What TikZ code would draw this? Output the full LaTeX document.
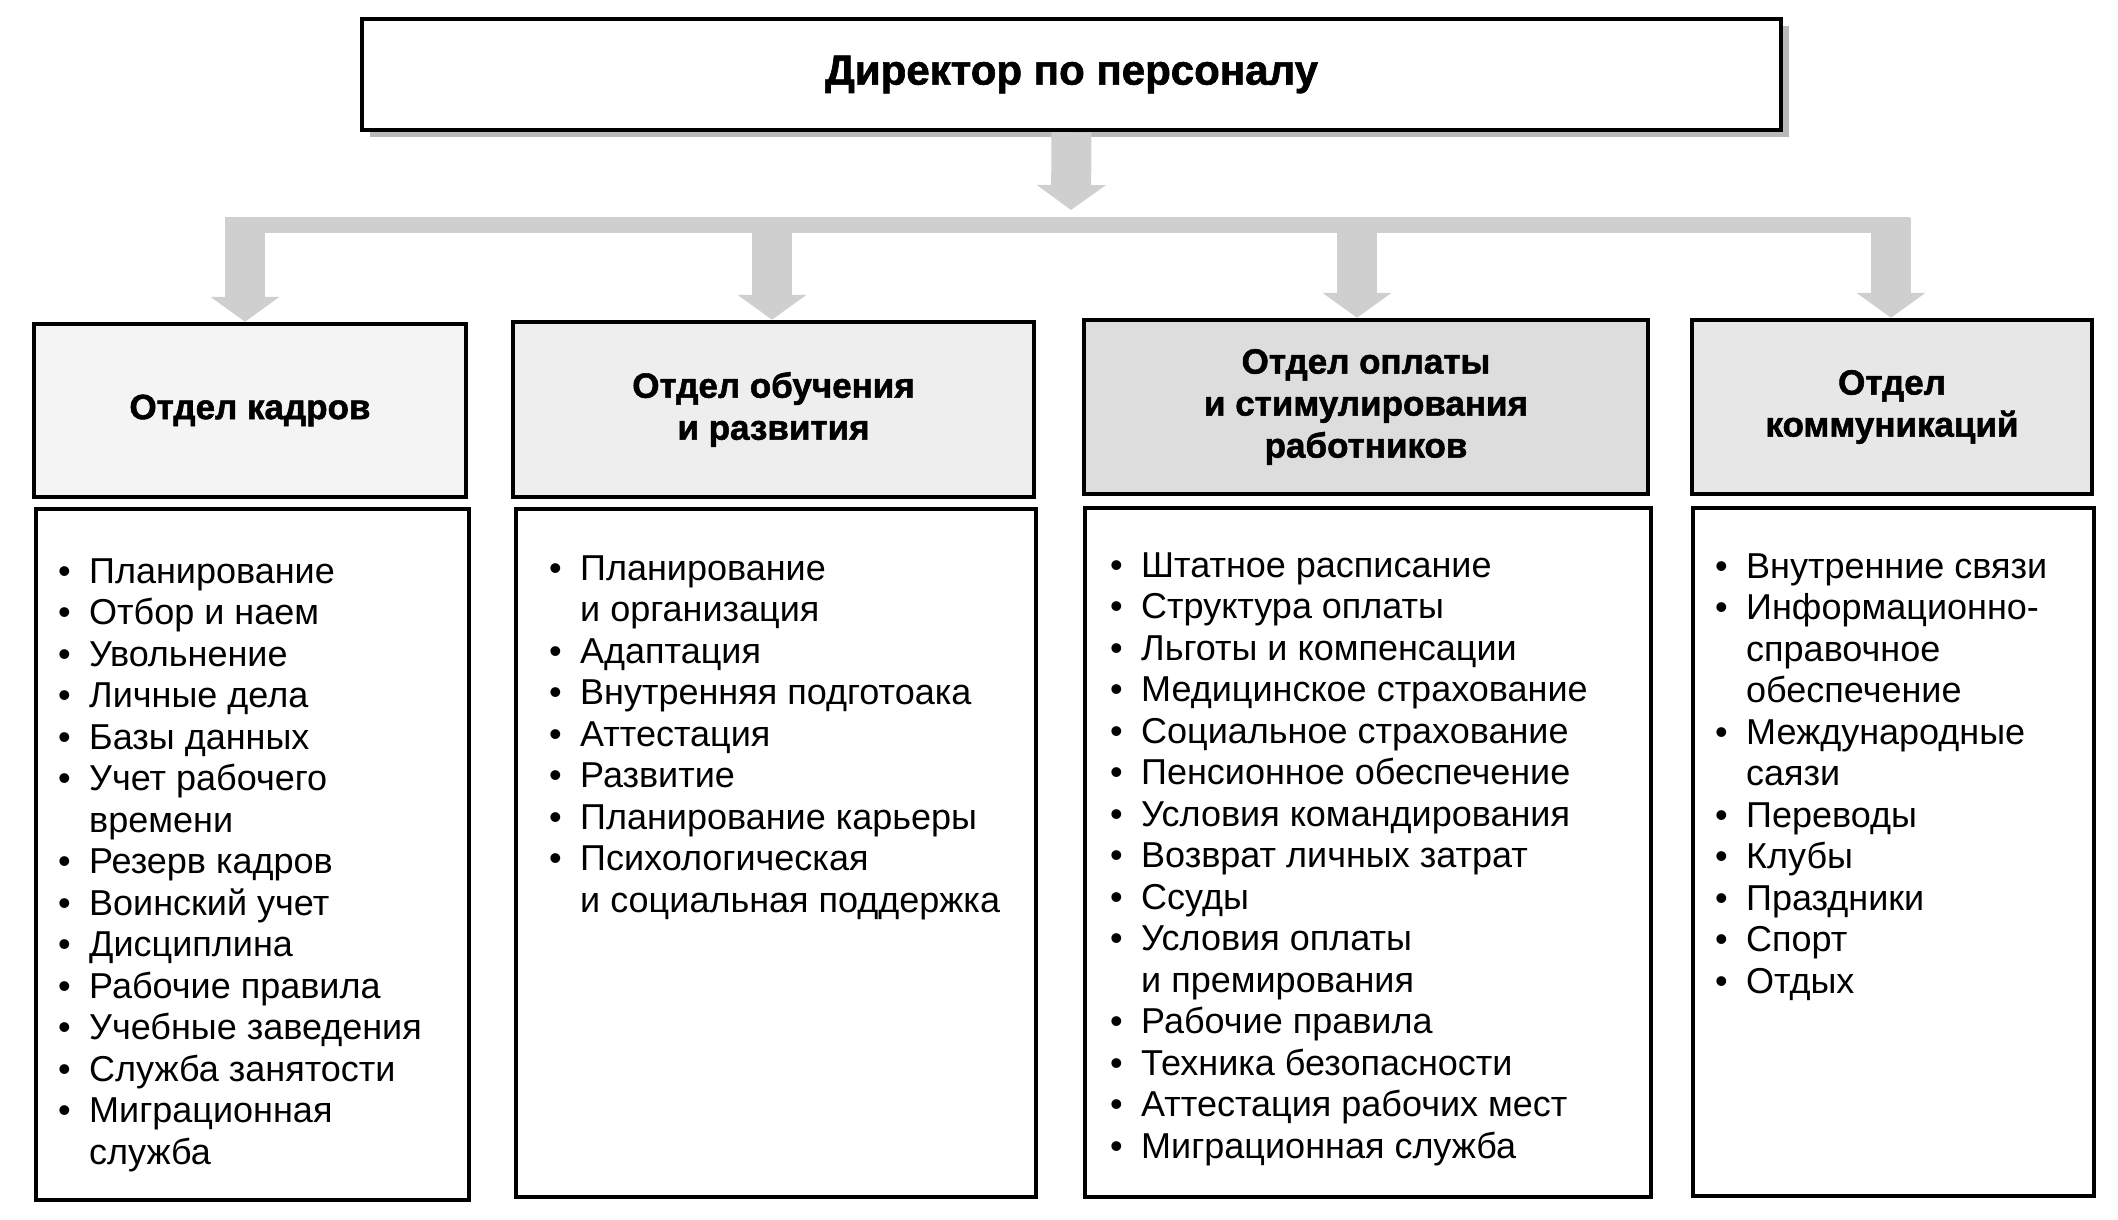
\documentclass[tikz,border=0pt]{standalone}
\usepackage{fontspec}
\setmainfont{Liberation Sans}
\newfontfamily\hdrfont{Liberation Sans}[BoldFeatures={FakeBold=1.5}]
\usetikzlibrary{arrows.meta,shadows}
\newcommand\itm{\makebox[31pt][l]{•}}
\begin{document}
\begin{tikzpicture}[x=1pt,y=-1pt,
 box/.style={draw=black,line width=4.5pt,inner sep=0pt},
 hdr/.style={box,font=\hdrfont\bfseries\fontsize{35}{42}\selectfont,align=center},
 lstbox/.style={box,fill=white},
 garrow/.style={draw=gray!38,line width=40pt,-{Triangle[width=68pt,length=25pt]}},
 gbar/.style={draw=gray!38,line width=16pt},
 items/.style={inner sep=0pt,anchor=base west,font=\fontsize{36}{41.5}\selectfont}
]
\useasboundingbox (0,0) rectangle (2118,1219);
% top box
\node[box,fill=white,minimum width=1419pt,minimum height=111pt,
  drop shadow={shadow xshift=8pt,shadow yshift=-7pt,fill=gray!55,opacity=1},
  font=\hdrfont\bfseries\fontsize{42}{48}\selectfont] (top) at (1071.5,74.5) {Директор по персоналу};
% headers
\node[hdr,fill=gray!9,minimum width=432pt,minimum height=173pt] (h1) at (250,410.5) {Отдел кадров};
\node[hdr,fill=gray!13,minimum width=521pt,minimum height=175pt] (h2) at (773.5,409.5) {Отдел обучения\\и развития};
\node[hdr,fill=gray!27,minimum width=564pt,minimum height=174pt] (h3) at (1366,407) {Отдел оплаты\\и стимулирования\\работников};
\node[hdr,fill=gray!19,minimum width=400pt,minimum height=174pt] (h4) at (1892,407) {Отдел\\коммуникаций};
% content boxes
\node[lstbox,minimum width=433pt,minimum height=691pt] (c1) at (252.5,854.5) {};
\node[lstbox,minimum width=520pt,minimum height=688pt] (c2) at (776,853) {};
\node[lstbox,minimum width=566pt,minimum height=689pt] (c3) at (1368,852.5) {};
\node[lstbox,minimum width=401pt,minimum height=688pt] (c4) at (1893.5,852) {};
% connectors
\coordinate (jc) at (1071,210);
\coordinate (bl) at (225,225);
\coordinate (br) at (1910,225);
\coordinate (j1) at (245,218);
\coordinate (j2) at (772,218);
\coordinate (j3) at (1357,218);
\coordinate (j4) at (1891,218);
\draw[gbar] (bl) -- (br);
\draw[garrow] (top.south) -- (jc);
\draw[garrow] (j1) -- (j1 |- h1.north);
\draw[garrow] (j2) -- (j2 |- h2.north);
\draw[garrow] (j3) -- (j3 |- h3.north);
\draw[garrow] (j4) -- (j4 |- h4.north);
% lists
\node[items] (l1) at (58,583) {\begin{tabular}[t]{@{}l@{}}
\itm Планирование\\
\itm Отбор и наем\\
\itm Увольнение\\
\itm Личные дела\\
\itm Базы данных\\
\itm Учет рабочего\\
\hspace*{31pt}времени\\
\itm Резерв кадров\\
\itm Воинский учет\\
\itm Дисциплина\\
\itm Рабочие правила\\
\itm Учебные заведения\\
\itm Служба занятости\\
\itm Миграционная\\
\hspace*{31pt}служба
\end{tabular}};
\node[items] (l2) at (549,580) {\begin{tabular}[t]{@{}l@{}}
\itm Планирование\\
\hspace*{31pt}и организация\\
\itm Адаптация\\
\itm Внутренняя подготоака\\
\itm Аттестация\\
\itm Развитие\\
\itm Планирование карьеры\\
\itm Психологическая\\
\hspace*{31pt}и социальная поддержка
\end{tabular}};
\node[items] (l3) at (1110,577) {\begin{tabular}[t]{@{}l@{}}
\itm Штатное расписание\\
\itm Структура оплаты\\
\itm Льготы и компенсации\\
\itm Медицинское страхование\\
\itm Социальное страхование\\
\itm Пенсионное обеспечение\\
\itm Условия командирования\\
\itm Возврат личных затрат\\
\itm Ссуды\\
\itm Условия оплаты\\
\hspace*{31pt}и премирования\\
\itm Рабочие правила\\
\itm Техника безопасности\\
\itm Аттестация рабочих мест\\
\itm Миграционная служба
\end{tabular}};
\node[items] (l4) at (1715,578) {\begin{tabular}[t]{@{}l@{}}
\itm Внутренние связи\\
\itm Информационно-\\
\hspace*{31pt}справочное\\
\hspace*{31pt}обеспечение\\
\itm Международные\\
\hspace*{31pt}саязи\\
\itm Переводы\\
\itm Клубы\\
\itm Праздники\\
\itm Спорт\\
\itm Отдых
\end{tabular}};
\end{tikzpicture}
\end{document}
